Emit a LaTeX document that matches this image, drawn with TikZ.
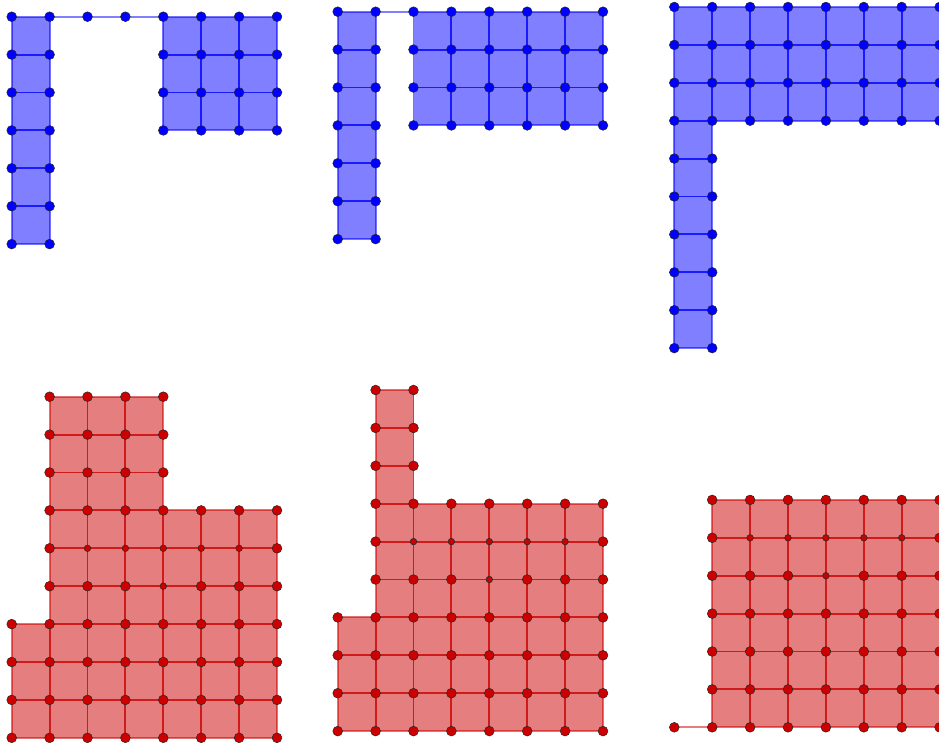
\documentclass[tikz,border=0pt]{standalone}
\definecolor{gbblue}{RGB}{0,0,255}
\definecolor{gbred}{RGB}{204,0,0}
\begin{document}
\begin{tikzpicture}[x=1pt,y=-1pt,
  bcell/.style={fill=gbblue, fill opacity=0.5, draw=gbblue, draw opacity=0.55, line width=1.9pt},
  rcell/.style={fill=gbred, fill opacity=0.5, draw=gbred, draw opacity=0.55, line width=1.9pt},
  bseg/.style={draw=gbblue, draw opacity=0.5, line width=1.9pt},
  rseg/.style={draw=gbred, draw opacity=0.5, line width=1.9pt},
  bdot/.style={fill=gbblue, draw=black!85, line width=0.5pt, radius=4.9pt},
  rdot/.style={fill=gbred, draw=black!85, line width=0.5pt, radius=4.9pt},
  rsdot/.style={rdot, radius=3.3pt}]
\def\gs{37.9}
\newcommand\cellat[5]{\path[#5] ({#1+#3*\gs},{#2+#4*\gs}) rectangle ++(\gs,\gs);}
\newcommand\dotat[5]{\path[#5] ({#1+#3*\gs},{#2+#4*\gs}) circle;}
\newcommand\redrows[2]{%
  \foreach \i in {1,...,7} {\dotat{#1}{#2}{\i}{3}{rdot}}
  \foreach \i in {1,7} {\dotat{#1}{#2}{\i}{4}{rdot}}
  \foreach \i in {2,...,6} {\dotat{#1}{#2}{\i}{4}{rsdot}}
  \foreach \i in {1,2,3,5,6,7} {\dotat{#1}{#2}{\i}{5}{rdot}}
  \dotat{#1}{#2}{4}{5}{rsdot}
  \foreach \i in {0,...,7} \foreach \j in {6,...,9} {\dotat{#1}{#2}{\i}{\j}{rdot}}}
\useasboundingbox (0,0) rectangle (939,748);
\clip (0,0) rectangle (939,748);
% ---------- top left (blue)
\def\ox{11.7}\def\oy{16.7}
\foreach \j in {0,...,5} {\cellat{\ox}{\oy}{0}{\j}{bcell}}
\foreach \i in {4,5,6} \foreach \j in {0,1,2} {\cellat{\ox}{\oy}{\i}{\j}{bcell}}
\draw[bseg] ({\ox+\gs},\oy) -- ({\ox+4*\gs},\oy);
\foreach \i in {0,1} \foreach \j in {0,...,6} {\dotat{\ox}{\oy}{\i}{\j}{bdot}}
\foreach \i in {4,...,7} \foreach \j in {0,...,3} {\dotat{\ox}{\oy}{\i}{\j}{bdot}}
\foreach \i in {2,3} {\dotat{\ox}{\oy}{\i}{0}{bdot}}
% ---------- top middle (blue)
\def\ox{337.7}\def\oy{11.7}
\foreach \j in {0,...,5} {\cellat{\ox}{\oy}{0}{\j}{bcell}}
\foreach \i in {2,...,6} \foreach \j in {0,1,2} {\cellat{\ox}{\oy}{\i}{\j}{bcell}}
\draw[bseg] ({\ox+\gs},\oy) -- ({\ox+2*\gs},\oy);
\foreach \i in {0,1} \foreach \j in {0,...,6} {\dotat{\ox}{\oy}{\i}{\j}{bdot}}
\foreach \i in {2,...,7} \foreach \j in {0,...,3} {\dotat{\ox}{\oy}{\i}{\j}{bdot}}
% ---------- top right (blue)
\def\ox{674.3}\def\oy{7}
\foreach \i in {0,...,8} \foreach \j in {0,1,2} {\cellat{\ox}{\oy}{\i}{\j}{bcell}}
\foreach \j in {3,...,8} {\cellat{\ox}{\oy}{0}{\j}{bcell}}
\foreach \i in {0,...,9} \foreach \j in {0,...,3} {\dotat{\ox}{\oy}{\i}{\j}{bdot}}
\foreach \i in {0,1} \foreach \j in {4,...,9} {\dotat{\ox}{\oy}{\i}{\j}{bdot}}
% ---------- bottom left (red)
\def\ox{11.7}\def\oy{396.7}
\foreach \i in {1,2,3} \foreach \j in {0,...,8} {\cellat{\ox}{\oy}{\i}{\j}{rcell}}
\foreach \i in {4,5,6} \foreach \j in {3,...,8} {\cellat{\ox}{\oy}{\i}{\j}{rcell}}
\foreach \j in {6,7,8} {\cellat{\ox}{\oy}{0}{\j}{rcell}}
\foreach \i in {1,...,4} \foreach \j in {0,1,2} {\dotat{\ox}{\oy}{\i}{\j}{rdot}}
\redrows{\ox}{\oy}
% ---------- bottom middle (red)
\def\ox{337.7}\def\oy{390}
\foreach \j in {0,1,2} {\cellat{\ox}{\oy}{1}{\j}{rcell}}
\foreach \i in {1,...,6} \foreach \j in {3,...,8} {\cellat{\ox}{\oy}{\i}{\j}{rcell}}
\foreach \j in {6,7,8} {\cellat{\ox}{\oy}{0}{\j}{rcell}}
\foreach \i in {1,2} \foreach \j in {0,1,2} {\dotat{\ox}{\oy}{\i}{\j}{rdot}}
\redrows{\ox}{\oy}
% ---------- bottom right (red)
\def\ox{674.3}\def\oy{499.9}
\foreach \i in {1,...,8} \foreach \j in {0,...,5} {\cellat{\ox}{\oy}{\i}{\j}{rcell}}
\draw[rseg] (\ox,{\oy+6*\gs}) -- ({\ox+\gs},{\oy+6*\gs});
\foreach \i in {1,...,9} {\dotat{\ox}{\oy}{\i}{0}{rdot}}
\foreach \i in {1,7,8,9} {\dotat{\ox}{\oy}{\i}{1}{rdot}}
\foreach \i in {2,...,6} {\dotat{\ox}{\oy}{\i}{1}{rsdot}}
\foreach \i in {1,2,3,5,6,7,8,9} {\dotat{\ox}{\oy}{\i}{2}{rdot}}
\dotat{\ox}{\oy}{4}{2}{rsdot}
\foreach \i in {1,...,9} \foreach \j in {3,...,6} {\dotat{\ox}{\oy}{\i}{\j}{rdot}}
\dotat{\ox}{\oy}{0}{6}{rdot}
\end{tikzpicture}
\end{document}
